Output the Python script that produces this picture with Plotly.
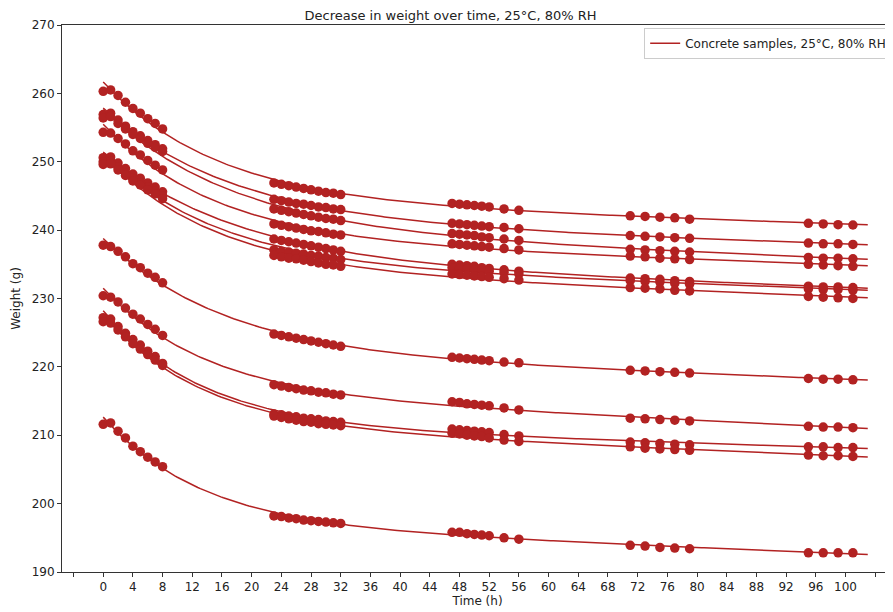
import numpy as np
import plotly.graph_objects as go

times = [0, 1, 2, 3, 4, 5, 6, 7, 8,
         23, 24, 25, 26, 27, 28, 29, 30, 31, 32,
         47, 48, 49, 50, 51, 52, 54, 56,
         71, 73, 75, 77, 79,
         95, 97, 99, 101]

sample_A = [260.3, 260.5, 259.7, 258.7, 257.8, 257.1, 256.3, 255.6, 254.8,
            246.9, 246.7, 246.5, 246.3, 246.1, 245.9, 245.7, 245.5, 245.4, 245.2,
            243.9, 243.8, 243.7, 243.6, 243.5, 243.4, 243.1, 242.9,
            242.1, 242.0, 241.9, 241.8, 241.6,
            241.0, 240.9, 240.8, 240.75]
sample_B = [256.9, 257.1, 256.1, 255.2, 254.4, 253.8, 253.1, 252.5, 251.9,
            244.5, 244.3, 244.1, 243.9, 243.8, 243.6, 243.4, 243.3, 243.1, 243.0,
            241.0, 240.9, 240.8, 240.7, 240.6, 240.5, 240.4, 240.2,
            239.2, 239.1, 239.0, 238.9, 238.8,
            238.1, 238.0, 238.0, 237.9]
sample_C = [256.4, 256.6, 255.6, 254.8, 254.0, 253.4, 252.7, 252.1, 251.5,
            243.1, 242.9, 242.7, 242.5, 242.3, 242.1, 241.9, 241.7, 241.6, 241.4,
            239.5, 239.4, 239.3, 239.2, 239.0, 238.9, 238.7, 238.5,
            237.2, 237.1, 237.0, 236.9, 236.8,
            236.0, 235.9, 235.9, 235.8]
sample_D = [254.3, 254.2, 253.4, 252.6, 251.6, 251.0, 250.2, 249.5, 248.8,
            240.9, 240.7, 240.5, 240.3, 240.1, 239.9, 239.8, 239.6, 239.4, 239.3,
            238.0, 237.9, 237.8, 237.7, 237.6, 237.5, 237.3, 237.1,
            236.2, 236.1, 235.9, 235.8, 235.7,
            235.0, 234.9, 234.8, 234.7]
sample_E = [250.6, 250.7, 249.8, 249.0, 248.2, 247.6, 246.9, 246.3, 245.6,
            238.7, 238.5, 238.3, 238.1, 237.9, 237.7, 237.5, 237.3, 237.1, 236.9,
            235.0, 234.9, 234.8, 234.7, 234.5, 234.4, 234.2, 234.0,
            233.0, 232.9, 232.8, 232.6, 232.5,
            231.8, 231.7, 231.7, 231.6]
sample_F = [250.0, 250.1, 249.2, 248.4, 247.6, 247.0, 246.3, 245.7, 245.0,
            237.1, 236.9, 236.8, 236.6, 236.5, 236.3, 236.2, 236.0, 235.9, 235.7,
            234.5, 234.4, 234.3, 234.2, 234.1, 234.0, 233.8, 233.6,
            232.6, 232.5, 232.4, 232.2, 232.1,
            231.4, 231.3, 231.3, 231.2]
sample_G = [249.6, 249.7, 248.8, 248.0, 247.2, 246.6, 245.9, 245.3, 244.6,
            236.3, 236.1, 235.9, 235.8, 235.6, 235.4, 235.2, 235.0, 234.9, 234.7,
            233.6, 233.5, 233.4, 233.3, 233.2, 233.1, 232.9, 232.7,
            231.6, 231.5, 231.4, 231.2, 231.1,
            230.3, 230.2, 230.1, 230.0]
sample_H = [237.8, 237.6, 236.9, 236.1, 235.1, 234.5, 233.7, 233.1, 232.3,
            224.8, 224.6, 224.4, 224.2, 224.0, 223.8, 223.6, 223.4, 223.2, 223.0,
            221.4, 221.3, 221.2, 221.1, 221.0, 220.9, 220.7, 220.6,
            219.5, 219.4, 219.3, 219.2, 219.1,
            218.3, 218.2, 218.2, 218.1]
sample_I = [230.4, 230.2, 229.5, 228.6, 227.7, 227.0, 226.2, 225.5, 224.6,
            217.4, 217.2, 217.0, 216.8, 216.6, 216.5, 216.3, 216.2, 216.0, 215.9,
            214.9, 214.8, 214.6, 214.5, 214.4, 214.3, 214.0, 213.7,
            212.5, 212.4, 212.3, 212.2, 212.1,
            211.3, 211.2, 211.2, 211.1]
sample_J = [227.2, 227.0, 225.9, 224.9, 224.0, 223.2, 222.3, 221.5, 220.5,
            213.1, 213.0, 212.8, 212.7, 212.5, 212.4, 212.3, 212.1, 212.0, 211.9,
            210.9, 210.8, 210.7, 210.6, 210.5, 210.4, 210.1, 209.9,
            209.0, 208.9, 208.8, 208.7, 208.6,
            208.3, 208.3, 208.2, 208.2]
sample_K = [226.6, 226.4, 225.4, 224.4, 223.4, 222.6, 221.8, 221.0, 220.2,
            212.8, 212.6, 212.4, 212.2, 212.0, 211.9, 211.7, 211.6, 211.5, 211.4,
            210.3, 210.2, 210.0, 209.9, 209.8, 209.6, 209.3, 209.1,
            208.3, 208.1, 208.0, 207.9, 207.8,
            207.1, 207.0, 207.0, 206.9]
sample_L = [211.6, 211.8, 210.6, 209.6, 208.4, 207.6, 206.8, 206.1, 205.4,
            198.2, 198.1, 197.9, 197.8, 197.6, 197.5, 197.4, 197.3, 197.2, 197.1,
            195.8, 195.8, 195.6, 195.5, 195.4, 195.3, 195.0, 194.8,
            193.9, 193.8, 193.6, 193.5, 193.4,
            192.8, 192.8, 192.8, 192.8]

samples = [sample_A, sample_B, sample_C, sample_D, sample_E, sample_F,
           sample_G, sample_H, sample_I, sample_J, sample_K, sample_L]

x_tick_vals = list(range(-4, 105, 4))
x_tick_text = ["" if (v < 0 or v > 100) else str(v) for v in x_tick_vals]
y_tick_vals = list(range(190, 271, 10))

title_text = "Decrease in weight over time, 25°C, 80% RH"
legend_label = "Concrete samples, 25°C, 80% RH"
color = "#b22222"

t = np.array(times, dtype=float)
t_fit = np.linspace(0, 103, 300)


def fit_curve(w):
    w = np.array(w, dtype=float)
    best = None
    for tau in np.linspace(2, 40, 381):
        A = np.column_stack([np.ones_like(t), np.exp(-t / tau), t])
        coef, res, *_ = np.linalg.lstsq(A, w, rcond=None)
        err = np.sum((A @ coef - w) ** 2)
        if best is None or err < best[0]:
            best = (err, tau, coef)
    _, tau, coef = best
    return coef[0] + coef[1] * np.exp(-t_fit / tau) + coef[2] * t_fit


fig = go.Figure()
for i, s in enumerate(samples):
    fig.add_trace(go.Scatter(x=t_fit, y=fit_curve(s), mode="lines",
                             line=dict(color=color, width=1.5),
                             name=legend_label, showlegend=(i == 0),
                             hoverinfo="skip"))
for s in samples:
    fig.add_trace(go.Scatter(x=times, y=s, mode="markers",
                             marker=dict(color=color, size=9.5),
                             showlegend=False))

axis_common = dict(showline=True, linecolor="#333", linewidth=1, mirror=True,
                   showgrid=False, zeroline=False, ticks="outside",
                   ticklen=4, tickcolor="#333",
                   tickfont=dict(family="DejaVu Sans", size=12, color="#222"))

# the page body has an 8px margin, so the figure is 8px smaller than the window
fig.update_layout(
    width=885, height=604,
    margin=dict(l=54, r=0, t=17, b=40),
    paper_bgcolor="white", plot_bgcolor="white",
    title=dict(text=title_text, x=0.5, xanchor="center", y=0.9876,
               yanchor="middle",
               font=dict(family="DejaVu Sans", size=13, color="#222")),
    font=dict(family="DejaVu Sans", size=12, color="#222"),
    xaxis=dict(range=[-5.55, 106.4], tickmode="array", tickvals=x_tick_vals,
               ticktext=x_tick_text,
               title=dict(text="Time (h)", standoff=3,
                          font=dict(family="DejaVu Sans", size=12)),
               **axis_common),
    yaxis=dict(range=[190, 270], tickmode="array", tickvals=y_tick_vals,
               title=dict(text="Weight (g)", standoff=8,
                          font=dict(family="DejaVu Sans", size=12)),
               **axis_common),
    legend=dict(x=0.999, y=0.995, xanchor="right", yanchor="top",
                bgcolor="rgba(255,255,255,0.9)", bordercolor="#ccc", borderwidth=1,
                font=dict(family="DejaVu Sans", size=12, color="#222")),
    showlegend=True,
)

fig.write_html("out.html")
